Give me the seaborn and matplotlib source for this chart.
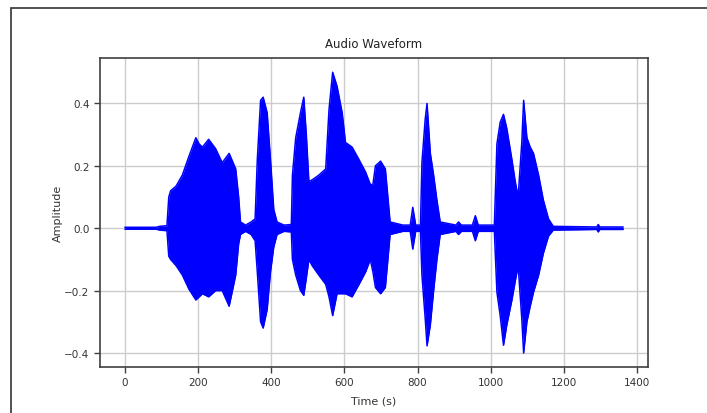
import matplotlib
matplotlib.use("Agg")
import matplotlib.pyplot as plt
from matplotlib.patches import Rectangle
import pandas as pd
import seaborn as sns

# Envelope of the recorded waveform: time (s), upper and lower amplitude
time = [0, 85, 95, 115, 120, 125, 140, 157, 175, 194, 203, 212, 229, 248, 266,
        285, 303, 311, 316, 330, 345, 356, 362, 371, 378, 389, 398, 407, 416,
        435, 455, 458, 467, 480, 489, 496, 503, 512, 530, 549, 558, 568, 580,
        594, 603, 621, 640, 658, 671, 678, 685, 699, 712, 719, 725, 760, 780,
        787, 795, 808, 812, 821, 826, 835, 844, 853, 862, 905, 912, 920, 950,
        958, 966, 1010, 1017, 1026, 1035, 1044, 1058, 1067, 1075, 1085, 1090,
        1099, 1108, 1117, 1131, 1144, 1158, 1171, 1290, 1294, 1298, 1362]
upper = [0.003, 0.003, 0.006, 0.008, 0.10, 0.12, 0.135, 0.17, 0.23, 0.29,
         0.27, 0.26, 0.285, 0.255, 0.21, 0.24, 0.19, 0.10, 0.02, 0.01, 0.02,
         0.03, 0.22, 0.41, 0.42, 0.37, 0.22, 0.06, 0.02, 0.01, 0.012, 0.17,
         0.29, 0.37, 0.42, 0.30, 0.15, 0.155, 0.17, 0.19, 0.38, 0.50, 0.455,
         0.37, 0.275, 0.26, 0.22, 0.18, 0.14, 0.14, 0.20, 0.215, 0.19, 0.10,
         0.02, 0.01, 0.01, 0.067, 0.01, 0.01, 0.21, 0.35, 0.40, 0.24, 0.17,
         0.09, 0.02, 0.01, 0.02, 0.01, 0.01, 0.04, 0.01, 0.01, 0.27, 0.34,
         0.365, 0.32, 0.22, 0.15, 0.10, 0.275, 0.41, 0.29, 0.26, 0.24, 0.17,
         0.09, 0.03, 0.006, 0.004, 0.012, 0.004, 0.004]
lower = [-0.003, -0.003, -0.006, -0.008, -0.09, -0.10, -0.12, -0.15, -0.195,
         -0.23, -0.22, -0.21, -0.22, -0.20, -0.20, -0.25, -0.15, -0.05, -0.02,
         -0.01, -0.02, -0.04, -0.14, -0.30, -0.32, -0.26, -0.14, -0.06, -0.02,
         -0.01, -0.012, -0.10, -0.15, -0.20, -0.215, -0.16, -0.10, -0.12,
         -0.15, -0.18, -0.22, -0.28, -0.21, -0.21, -0.21, -0.22, -0.18, -0.14,
         -0.10, -0.14, -0.19, -0.21, -0.19, -0.10, -0.02, -0.01, -0.01, -0.067,
         -0.01, -0.01, -0.15, -0.29, -0.377, -0.31, -0.20, -0.10, -0.02, -0.01,
         -0.02, -0.01, -0.01, -0.04, -0.01, -0.01, -0.205, -0.28, -0.375,
         -0.31, -0.23, -0.17, -0.12, -0.29, -0.40, -0.30, -0.25, -0.205, -0.15,
         -0.08, -0.025, -0.006, -0.004, -0.012, -0.004, -0.004]

x_ticks = [0, 200, 400, 600, 800, 1000, 1200, 1400]
y_ticks = [-0.4, -0.2, 0.0, 0.2, 0.4]

sns.set_theme(style="ticks", rc={
    "axes.grid": True,
    "grid.color": "#cccccc",
    "grid.linewidth": 1.0,
    "axes.edgecolor": "#404040",
    "axes.linewidth": 1.2,
    "xtick.color": "#404040",
    "ytick.color": "#404040",
    "xtick.labelcolor": "#333333",
    "ytick.labelcolor": "#333333",
})
plt.rcParams["font.family"] = ["DejaVu Sans"]

df = pd.DataFrame({"time": time, "upper": upper, "lower": lower})

fig = plt.figure(figsize=(7.07, 4.14), dpi=100)
ax = fig.add_axes([0.1414, 0.111, 0.7752, 0.746])

ax.fill_between(df["time"], df["lower"], df["upper"], color="blue", lw=0)
sns.lineplot(data=df, x="time", y="upper", color="blue", lw=1.1, ax=ax)
sns.lineplot(data=df, x="time", y="lower", color="blue", lw=1.1, ax=ax)

ax.margins(x=0.05, y=0.05)
ax.set_xticks(x_ticks)
ax.set_yticks(y_ticks)
ax.tick_params(labelsize=7.5, length=4, width=1)
ax.set_title("Audio Waveform", fontsize=8.5, color="#222222", pad=8)
ax.set_xlabel("Time (s)", fontsize=8, color="#333333", labelpad=6)
ax.set_ylabel("Amplitude", fontsize=8, color="#333333", labelpad=1)
for s in ax.spines.values():
    s.set_visible(True)

# outer frame around the figure
fig.patches.append(Rectangle((10.5 / 707, -0.05), 1.2, (414 - 8.5) / 414 + 0.05,
                             transform=fig.transFigure, fill=False,
                             edgecolor="#333333", lw=1.2))

fig.savefig("out.png", dpi=100)
